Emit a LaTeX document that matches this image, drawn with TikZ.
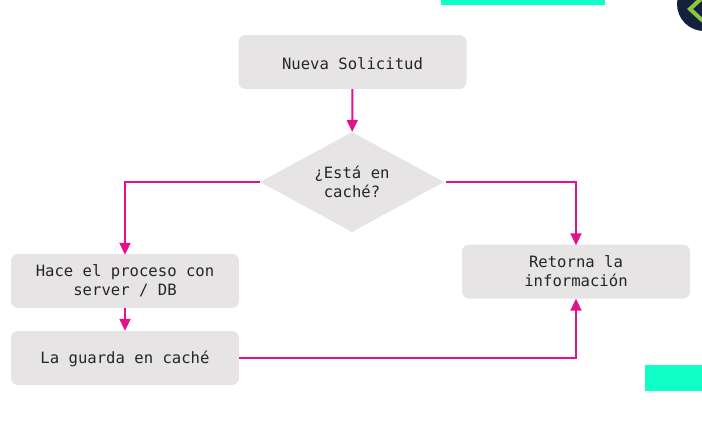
\documentclass[tikz,border=0pt]{standalone}
\usepackage{fontspec}
\setmonofont{DejaVu Sans Mono}
\usetikzlibrary{arrows.meta,shapes.geometric}
\definecolor{boxgray}{HTML}{E6E4E5}
\definecolor{linkpink}{HTML}{E5108F}
\definecolor{bandteal}{HTML}{10FFC8}
\definecolor{badgenavy}{HTML}{14213D}
\definecolor{badgegreen}{HTML}{8DC63F}
\tikzset{
	steptext/.style={inner sep=0pt, align=center, font=\fontsize{15.6}{19}\selectfont\ttfamily, text=black!85, execute at begin node={\rule{0pt}{15pt}}},
	stepbox/.style={steptext, rectangle, rounded corners=7pt, fill=boxgray, minimum width=228pt, minimum height=54pt},
	question/.style={steptext, diamond, aspect=1.84, fill=boxgray, minimum width=184pt, minimum height=100pt},
	link/.style={draw=linkpink, line width=2pt, -{Triangle[length=12pt,width=11pt]}},
}
\begin{document}
\begin{tikzpicture}[x=1pt,y=-1pt]
	\useasboundingbox (0, 0) rectangle (702, 431);

	% decoration
	\fill[bandteal] (441, 0) rectangle (605, 5);
	\fill[bandteal] (645, 365) rectangle (702, 391);
	\begin{scope}
		\clip (0, 0) rectangle (702, 431);
		\fill[badgenavy] (704, 4) circle (27);
		\draw[badgegreen, line width=4pt] (703, -3) -- (690, 9) -- (703, 21);
	\end{scope}

	% boxes
	\node[stepbox] (nueva) at (352.5, 62) {Nueva Solicitud};
	\node[question] (cache) at (352, 182) {¿Está en\\caché?};
	\node[stepbox] (proceso) at (125, 281) {Hace el proceso con\\server / DB};
	\node[stepbox] (guarda) at (125, 358) {La guarda en caché};
	\node[stepbox] (retorna) at (576, 271.5) {Retorna la\\información};

	% links
	\draw[link] (nueva) -- (cache);
	\draw[link] (cache.west) -| ([yshift=-1pt]proceso.north);
	\draw[link] ([xshift=2pt]cache.east) -| ([yshift=-1pt]retorna.north);
	\draw[link] (proceso) -- (guarda);
	\draw[link] (guarda.east) -| (retorna.south);
\end{tikzpicture}
\end{document}
